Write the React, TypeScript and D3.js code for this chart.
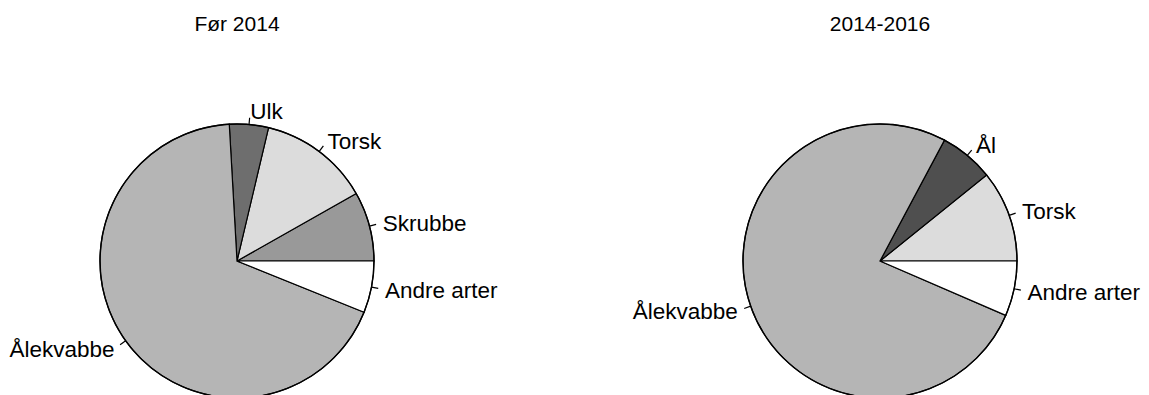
import React from "react";
import * as d3 from "d3";

// shares (%) in drawing order, counterclockwise from 3 o'clock
const before2014Labels = ["Skrubbe", "Torsk", "Ulk", "Ålekvabbe", "Andre arter"];
const before2014Values = [8.2, 13.1, 4.6, 68.0, 6.1];

const after2014Labels = ["Torsk", "Ål", "Ålekvabbe", "Andre arter"];
const after2014Values = [10.8, 6.4, 76.3, 6.5];

const titles = ["Før 2014", "2014-2016"];

const colors: Record<string, string> = {
  Skrubbe: "#999999",
  Torsk: "#dcdcdc",
  Ulk: "#6e6e6e",
  Ål: "#4f4f4f",
  Ålekvabbe: "#b5b5b5",
  "Andre arter": "#ffffff",
};

const width = 1149;
const height = 395;
const radius = 137;
const font = "'Liberation Sans', Arial, Helvetica, sans-serif";

function Pie({ cx, cy, title, labels, values }) {
  const data = labels.map((l, i) => ({ label: l, value: values[i] }));
  // R style: start at 3 o'clock, go counterclockwise
  const pie = d3
    .pie<any>()
    .sort(null)
    .value((d) => d.value)
    .startAngle(Math.PI / 2)
    .endAngle(Math.PI / 2 - 2 * Math.PI);
  const arcs = pie(data);
  const arc = d3.arc<any>().innerRadius(0).outerRadius(radius);

  return (
    <g>
      <text
        x={cx}
        y={31}
        textAnchor="middle"
        fontFamily={font}
        fontSize={21}
        fill="#000"
      >
        {title}
      </text>
      <g transform={`translate(${cx},${cy})`}>
        {arcs.map((a, i) => (
          <path
            key={i}
            d={arc(a) as string}
            fill={colors[a.data.label]}
            stroke="#000"
            strokeWidth={1.2}
          />
        ))}
        <circle r={radius} fill="none" stroke="#000" strokeWidth={1.4} />
        {arcs.map((a, i) => {
          const mid = (a.startAngle + a.endAngle) / 2;
          const sx = Math.sin(mid);
          const sy = -Math.cos(mid);
          const anchor = sx >= 0 ? "start" : "end";
          return (
            <g key={"l" + i}>
              <line
                x1={sx * radius}
                y1={sy * radius}
                x2={sx * radius * 1.05}
                y2={sy * radius * 1.05}
                stroke="#000"
                strokeWidth={1.2}
              />
              <text
                x={sx * radius * 1.1}
                y={sy * radius * 1.1}
                dy="0.36em"
                textAnchor={anchor}
                fontFamily={font}
                fontSize={22.5}
                fill="#000"
              >
                {a.data.label}
              </text>
            </g>
          );
        })}
      </g>
    </g>
  );
}

export default function App() {
  return (
    <div style={{ position: "absolute", left: 0, top: 0 }}>
      <svg width={width} height={height} style={{ display: "block", background: "#fff" }}>
        <Pie cx={237} cy={261} title={titles[0]} labels={before2014Labels} values={before2014Values} />
        <Pie cx={880} cy={261} title={titles[1]} labels={after2014Labels} values={after2014Values} />
      </svg>
    </div>
  );
}
